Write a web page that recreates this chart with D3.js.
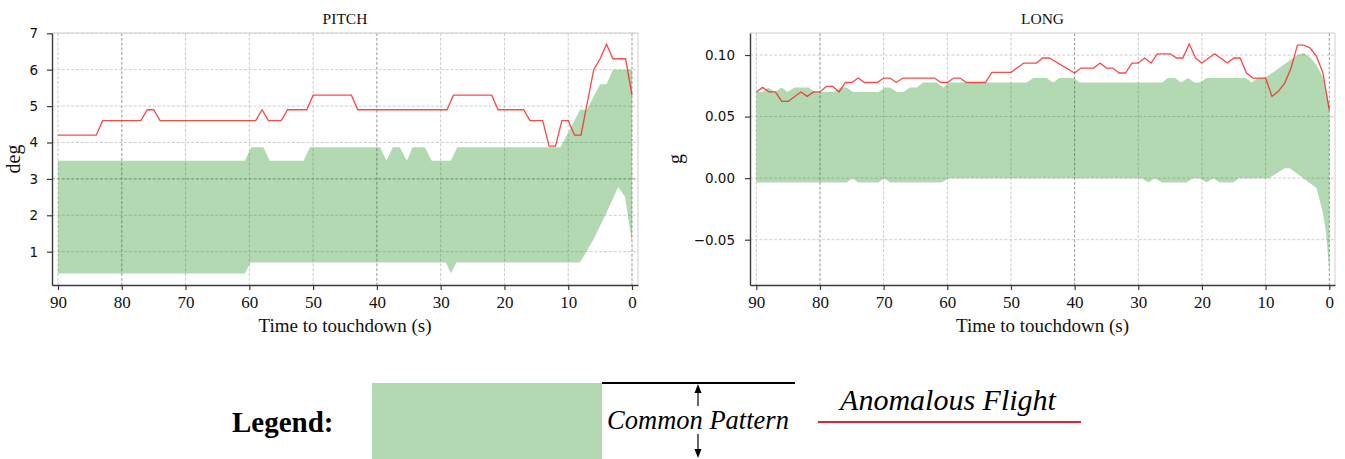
<!DOCTYPE html>
<html><head><meta charset="utf-8">
<script src="https://cdn.jsdelivr.net/npm/d3@7"></script>
<style>body{margin:0;background:#fff}svg{display:block}</style>
</head><body>
<svg id="c" width="1345" height="459"></svg>
<script>
// ---------- DATA ----------
const xTicks = [90, 80, 70, 60, 50, 40, 30, 20, 10, 0];
const pitchYTicks = [1, 2, 3, 4, 5, 6, 7];
const longYTicks = [-0.05, 0.00, 0.05, 0.10];

// PITCH - anomalous flight (deg)
const pitchRedT = [90, 84, 83, 77, 76, 75, 74, 59, 58, 57, 55, 54, 51, 50, 44, 43, 29, 28, 22, 21, 17, 16, 14, 13, 12, 11, 10, 9, 8, 7, 6, 5, 4, 3, 1, 0];
const pitchRedV = [4.2, 4.2, 4.6, 4.6, 4.9, 4.9, 4.6, 4.6, 4.9, 4.6, 4.6, 4.9, 4.9, 5.3, 5.3, 4.9, 4.9, 5.3, 5.3, 4.9, 4.9, 4.6, 4.6, 3.9, 3.9, 4.6, 4.6, 4.2, 4.2, 5.1, 6.0, 6.3, 6.7, 6.3, 6.3, 5.3];
// PITCH - common pattern band
const pitchUpT = [90, 60.7, 59.7, 57.8, 56.8, 51.5, 50.5, 39.5, 38.5, 37.5, 36.4, 35.3, 34.4, 32.5, 31.4, 28.4, 27.4, 11.2, 8.15, 7.1, 5.0, 4.0, 3.0, 0];
const pitchUpV = [3.5, 3.5, 3.87, 3.87, 3.5, 3.5, 3.87, 3.87, 3.5, 3.87, 3.87, 3.5, 3.87, 3.87, 3.5, 3.5, 3.87, 3.87, 4.9, 4.9, 5.6, 5.6, 6.0, 6.0];
const pitchLoT = [90, 60.7, 59.8, 29.2, 28.4, 27.5, 8.15, 6.0, 4.0, 2.15, 1.1, 0];
const pitchLoV = [0.4, 0.4, 0.7, 0.7, 0.41, 0.7, 0.7, 1.35, 2.08, 2.78, 2.51, 1.25];

// LONG - anomalous flight (g)
const longRedT = [90, 89, 88, 87, 86, 85, 83, 82, 81, 80, 79, 78, 77, 76, 75, 74, 73, 71, 70, 69, 68, 67, 62, 61, 60, 59, 58, 57, 54, 53, 50, 48, 46, 45, 44, 40, 39, 37, 36, 35, 34, 33, 32, 31, 30, 29, 28, 27, 25, 24, 23, 22, 21, 20, 18, 16, 15, 14, 13, 12, 10, 9, 8, 7, 6, 5, 4, 3, 2, 1, 0];
const longRedV = [0.070, 0.0737, 0.070, 0.070, 0.0623, 0.0623, 0.070, 0.0664, 0.070, 0.070, 0.0745, 0.0745, 0.070, 0.0777, 0.0777, 0.0813, 0.0777, 0.0777, 0.0813, 0.0813, 0.0777, 0.0813, 0.0813, 0.0777, 0.0777, 0.0813, 0.0813, 0.0777, 0.0777, 0.0859, 0.0859, 0.0935, 0.0935, 0.0976, 0.0976, 0.0854, 0.0894, 0.0894, 0.0935, 0.0894, 0.0894, 0.0854, 0.0854, 0.0935, 0.0935, 0.0976, 0.0935, 0.101, 0.101, 0.0976, 0.0976, 0.109, 0.0976, 0.0935, 0.101, 0.0935, 0.0976, 0.0976, 0.0854, 0.0813, 0.0813, 0.0664, 0.0705, 0.0772, 0.0894, 0.108, 0.108, 0.1057, 0.0989, 0.0854, 0.0555];
// LONG - common pattern band
const longUpT = [90, 89, 88.1, 87.1, 86.0, 85.1, 84.0, 81.8, 80.8, 77.8, 76.8, 75.8, 74.8, 70.8, 69.8, 69.0, 67.9, 66.9, 65.9, 64.8, 63.8, 61.7, 60.6, 59.8, 47.5, 46.5, 44.4, 43.4, 42.4, 40.1, 39.2, 26.2, 25.4, 24.2, 23.3, 22.2, 21.2, 20.3, 19.3, 13.1, 12.2, 11.2, 10.1, 5.0, 4.0, 3.0, 2.0, 1.0, 0];
const longUpV = [0.070, 0.070, 0.0737, 0.070, 0.0737, 0.070, 0.0737, 0.0737, 0.070, 0.070, 0.0737, 0.0737, 0.070, 0.070, 0.0737, 0.0737, 0.070, 0.070, 0.0737, 0.0737, 0.0777, 0.0777, 0.0737, 0.0777, 0.0777, 0.0813, 0.0813, 0.0777, 0.0813, 0.0813, 0.0777, 0.0777, 0.0813, 0.0813, 0.0777, 0.0813, 0.0777, 0.0777, 0.0813, 0.0813, 0.0777, 0.0813, 0.0813, 0.100, 0.1016, 0.098, 0.092, 0.082, 0.060];
const longLoT = [90, 75.8, 74.9, 74.0, 70.8, 69.9, 69.0, 60.9, 59.8, 29.5, 28.4, 27.4, 26.3, 22.4, 21.4, 20.3, 19.3, 18.2, 17.2, 15.1, 14.2, 9.5, 7.0, 6.2, 2.0, 1.0, 0.5, 0];
const longLoV = [-0.0036, -0.0036, 0.0, -0.0036, -0.0036, 0.0, -0.0036, -0.0036, 0.0, 0.0, -0.0036, 0.0, -0.0036, -0.0036, 0.0, 0.0, -0.0036, 0.0, -0.0036, -0.0036, 0.0, 0.0, 0.0081, 0.0081, -0.0081, -0.028, -0.045, -0.075];

// ---------- DRAW ----------
const svg = d3.select("#c");
const SERIF = "'Liberation Serif','Times New Roman',serif";
const SANS = "'DejaVu Sans',sans-serif";

function panel(o) {
  const g = svg.append("g");
  const x = d3.scaleLinear().domain(o.xDom).range([o.left, o.right]);
  const y = d3.scaleLinear().domain(o.yDom).range([o.bottom, o.top]);

  // grid
  const grid = g.append("g");
  xTicks.forEach(t => {
    grid.append("line").attr("x1", x(t)).attr("x2", x(t)).attr("y1", o.top).attr("y2", o.bottom)
      .attr("stroke", o.darkX.includes(t) ? "#8a8a8a" : "#c4c4c4").attr("stroke-width", 0.9)
      .attr("stroke-dasharray", "3,1.8");
  });
  o.yTicks.forEach(v => {
    grid.append("line").attr("x1", o.left).attr("x2", o.right).attr("y1", y(v)).attr("y2", y(v))
      .attr("stroke", o.darkY.includes(v) ? "#8a8a8a" : "#c9c9c9").attr("stroke-width", 0.9)
      .attr("stroke-dasharray", "3,1.8");
  });

  // band
  const up = o.upT.map((t, i) => [x(t), y(o.upV[i])]);
  const lo = o.loT.map((t, i) => [x(t), y(o.loV[i])]).reverse();
  g.append("path").attr("d", d3.line()(up.concat(lo)) + "Z")
    .attr("fill", "#008000").attr("fill-opacity", 0.3).attr("stroke", "none");

  // anomalous line
  const line = d3.line().x(d => x(d[0])).y(d => y(d[1]));
  g.append("path").attr("d", line(o.redT.map((t, i) => [t, o.redV[i]])))
    .attr("fill", "none").attr("stroke", "#ff1a1a").attr("stroke-opacity", 0.8).attr("stroke-width", 1.3);

  // light top/right spines
  g.append("line").attr("x1", o.left).attr("x2", o.right).attr("y1", o.top).attr("y2", o.top)
    .attr("stroke", "#cfcfcf").attr("stroke-width", 1);
  g.append("line").attr("x1", o.right).attr("x2", o.right).attr("y1", o.top).attr("y2", o.bottom)
    .attr("stroke", "#cfcfcf").attr("stroke-width", 1);

  // axes
  const xa = g.append("g").attr("transform", `translate(0,${o.bottom})`)
    .call(d3.axisBottom(x).tickValues(xTicks).tickSize(5).tickSizeOuter(0).tickFormat(d3.format("d")));
  xa.selectAll("text").attr("y", 23).attr("dy", "0").attr("font-family", SERIF).attr("font-size", 17).attr("fill", "#111");
  const ya = g.append("g").attr("transform", `translate(${o.left},0)`)
    .call(d3.axisLeft(y).tickValues(o.yTicks).tickSize(5).tickSizeOuter(0).tickPadding(o.pad).tickFormat(o.fmt));
  ya.selectAll("text").attr("font-family", SANS).attr("font-size", 13.5).attr("fill", "#111");
  [xa, ya].forEach(a => {
    a.select(".domain").attr("stroke", "#3a3a3a").attr("stroke-width", 1.4);
    a.selectAll(".tick line").attr("stroke", "#3a3a3a").attr("stroke-width", 1.2);
  });

  // titles and labels
  const cx = (o.left + o.right) / 2;
  g.append("text").attr("x", cx).attr("y", 24).attr("text-anchor", "middle")
    .attr("font-family", SERIF).attr("font-size", 15.5).attr("fill", "#111").text(o.title);
  g.append("text").attr("x", cx).attr("y", 332).attr("text-anchor", "middle")
    .attr("font-family", SERIF).attr("font-size", 19).attr("fill", "#111").text("Time to touchdown (s)");
  g.append("text").attr("transform", `translate(${o.ylx},${(o.top + o.bottom) / 2}) rotate(-90)`)
    .attr("text-anchor", "middle").attr("font-family", SERIF).attr("font-size", 20).attr("fill", "#111").text(o.ylabel);
}

panel({
  left: 52, right: 638, top: 33, bottom: 285,
  xDom: [90.94, -0.94], yDom: [0.085, 7.008], yTicks: pitchYTicks, fmt: d3.format("d"), pad: 9,
  darkX: [80, 40, 0], darkY: [3],
  upT: pitchUpT, upV: pitchUpV, loT: pitchLoT, loV: pitchLoV, redT: pitchRedT, redV: pitchRedV,
  title: "PITCH", ylabel: "deg", ylx: 20
});
panel({
  left: 750, right: 1335, top: 33, bottom: 285,
  xDom: [90.99, -0.9], yDom: [-0.0868, 0.1179], yTicks: longYTicks, fmt: d3.format(".2f"), pad: 10,
  darkX: [80, 40, 0], darkY: [],
  upT: longUpT, upV: longUpV, loT: longLoT, loV: longLoV, redT: longRedT, redV: longRedV,
  title: "LONG", ylabel: "g", ylx: 682
});

// ---------- LEGEND ----------
const lg = svg.append("g");
lg.append("text").attr("x", 232).attr("y", 432).attr("font-family", SERIF).attr("font-weight", "bold")
  .attr("font-size", 29).attr("fill", "#000").text("Legend:");
lg.append("rect").attr("x", 372).attr("y", 383).attr("width", 230).attr("height", 76)
  .attr("fill", "#008000").attr("fill-opacity", 0.3);
lg.append("line").attr("x1", 602).attr("x2", 795).attr("y1", 383).attr("y2", 383)
  .attr("stroke", "#000").attr("stroke-width", 2);
// arrows
lg.append("line").attr("x1", 698).attr("x2", 698).attr("y1", 406).attr("y2", 390).attr("stroke", "#000").attr("stroke-width", 1.2);
lg.append("path").attr("d", "M698,384 L694.5,393 L701.5,393 Z").attr("fill", "#000");
lg.append("line").attr("x1", 698).attr("x2", 698).attr("y1", 434).attr("y2", 451).attr("stroke", "#000").attr("stroke-width", 1.2);
lg.append("path").attr("d", "M698,458 L694.5,449 L701.5,449 Z").attr("fill", "#000");
lg.append("text").attr("x", 698).attr("y", 429).attr("text-anchor", "middle").attr("font-family", SERIF)
  .attr("font-style", "italic").attr("font-size", 26.5).attr("fill", "#000").text("Common Pattern");
lg.append("text").attr("x", 948).attr("y", 410).attr("text-anchor", "middle").attr("font-family", SERIF)
  .attr("font-style", "italic").attr("font-size", 30).attr("fill", "#000").text("Anomalous Flight");
lg.append("line").attr("x1", 818).attr("x2", 1081).attr("y1", 422).attr("y2", 422)
  .attr("stroke", "#ee1c2e").attr("stroke-width", 2);
</script>
</body></html>
